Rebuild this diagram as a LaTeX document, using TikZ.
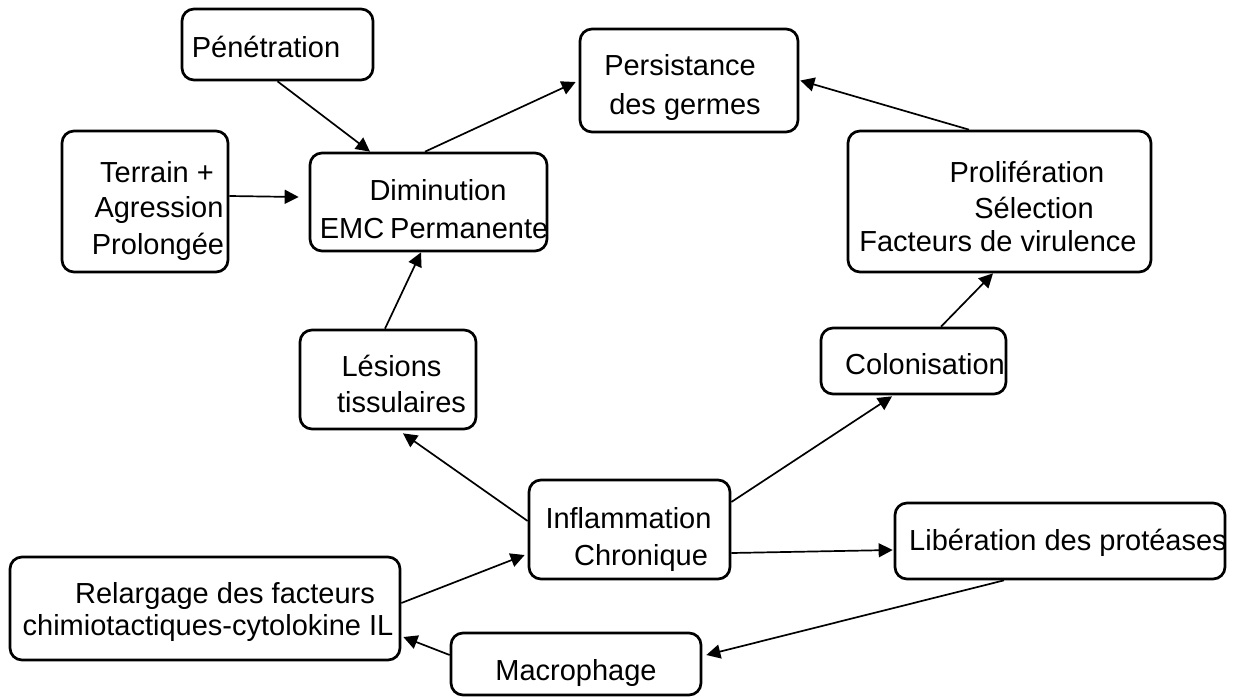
\documentclass[tikz,border=0pt]{standalone}
\usepackage{fontspec}
\setmainfont{Liberation Sans}
\usetikzlibrary{arrows.meta}
\tikzset{
  box/.style={draw, line width=1.35pt, rounded corners=6pt, inner sep=0pt},
  txt/.style={anchor=base, inner sep=0pt, font=\fontsize{14.5}{17}\selectfont},
  arr/.style={line width=0.85pt, -{Triangle[length=7pt,width=7pt]}},
}
\begin{document}
\begin{tikzpicture}[x=0.5pt, y=-0.5pt]
\path[use as bounding box] (0,0) rectangle (1236,697);
% boxes
\node[box, minimum width=95.5pt, minimum height=35.5pt] (pen) at (277.5,44.5) {};
\node[box, minimum width=83pt, minimum height=70.5pt] (ter) at (145,201.5) {};
\node[box, minimum width=118.5pt, minimum height=49pt] (dim) at (428.5,202) {};
\node[box, minimum width=109pt, minimum height=51.5pt] (per) at (689,80.5) {};
\node[box, minimum width=151.5pt, minimum height=70.5pt] (pro) at (999.5,201.5) {};
\node[box, minimum width=88pt, minimum height=49.5pt] (les) at (388,379.5) {};
\node[box, minimum width=92.5pt, minimum height=33pt] (col) at (913.5,361) {};
\node[box, minimum width=100.5pt, minimum height=49.5pt] (inf) at (629.5,529.5) {};
\node[box, minimum width=165pt, minimum height=38pt] (lib) at (1060,541) {};
\node[box, minimum width=195pt, minimum height=51.5pt] (rel) at (205,608.5) {};
\node[box, minimum width=125pt, minimum height=31pt] (mac) at (576,664) {};
% texts
\node[txt] (tpen) at (266,57) {Pénétration};
\node[txt] (tter1) at (157,182) {Terrain +};
\node[txt] (tter2) at (159,217) {Agression};
\node[txt] (tter3) at (158,254) {Prolongée};
\node[txt] (tdim1) at (438,200) {Diminution};
\node[txt] (tdim2) at (434,238) {EMC\hspace{-1pt} Permanente};
\node[txt] (tper1) at (680,75) {Persistance};
\node[txt] (tper2) at (685,114) {des germes};
\node[txt] (tpro1) at (1027,182) {Prolifération};
\node[txt] (tpro2) at (1034,218) {Sélection};
\node[txt] (tpro3) at (998,251) {Facteurs de virulence};
\node[txt] (tles1) at (391.5,376) {Lésions};
\node[txt] (tles2) at (401.5,412) {tissulaires};
\node[txt] (tcol) at (925,374) {Colonisation};
\node[txt] (tinf1) at (628.5,528) {Inflammation};
\node[txt] (tinf2) at (641,565) {Chronique};
\node[txt] (tlib) at (1068,550) {Libération des protéases};
\node[txt] (trel1) at (225,603) {Relargage des facteurs};
\node[txt] (trel2) at (208,635) {chimiotactiques-cytolokine IL};
\node[txt] (tmac) at (576,680) {Macrophage};
% connectors
\draw[arr] (pen.south) -- ([xshift=-29.25pt]dim.north);
\draw[arr] ([yshift=2.75pt]ter.east) -- ([xshift=-5pt,yshift=2.5pt]dim.west);
\draw[arr] ([xshift=-1.75pt]dim.north) -- ([xshift=-1.5pt,yshift=-0.75pt]per.west);
\draw[arr] ([xshift=-15.25pt]pro.north) -- ([xshift=0.5pt]per.east);
\draw[arr] ([xshift=13.75pt]col.north) -- ([xshift=-3.25pt]pro.south);
\draw[arr] ([xshift=-1.5pt]les.north) -- ([xshift=-3.75pt]dim.south);
\draw[arr] ([yshift=4.25pt]inf.west) -- ([xshift=7.5pt,yshift=-1.5pt]les.south);
\draw[arr] ([yshift=13.75pt]inf.east) -- ([xshift=-10.75pt,yshift=-0.5pt]col.south);
\draw[arr] ([yshift=-11.75pt]inf.east) -- ([xshift=-0.5pt,yshift=-4.5pt]lib.west);
\draw[arr] ([xshift=-28pt]lib.south) -- ([xshift=2pt,yshift=4.5pt]mac.east);
\draw[arr] ([yshift=4.5pt]mac.west) -- ([xshift=1pt,yshift=-14.25pt]rel.east);
\draw[arr] ([yshift=2.75pt]rel.east) -- ([xshift=-1.5pt,yshift=-12.75pt]inf.west);
\end{tikzpicture}
\end{document}
